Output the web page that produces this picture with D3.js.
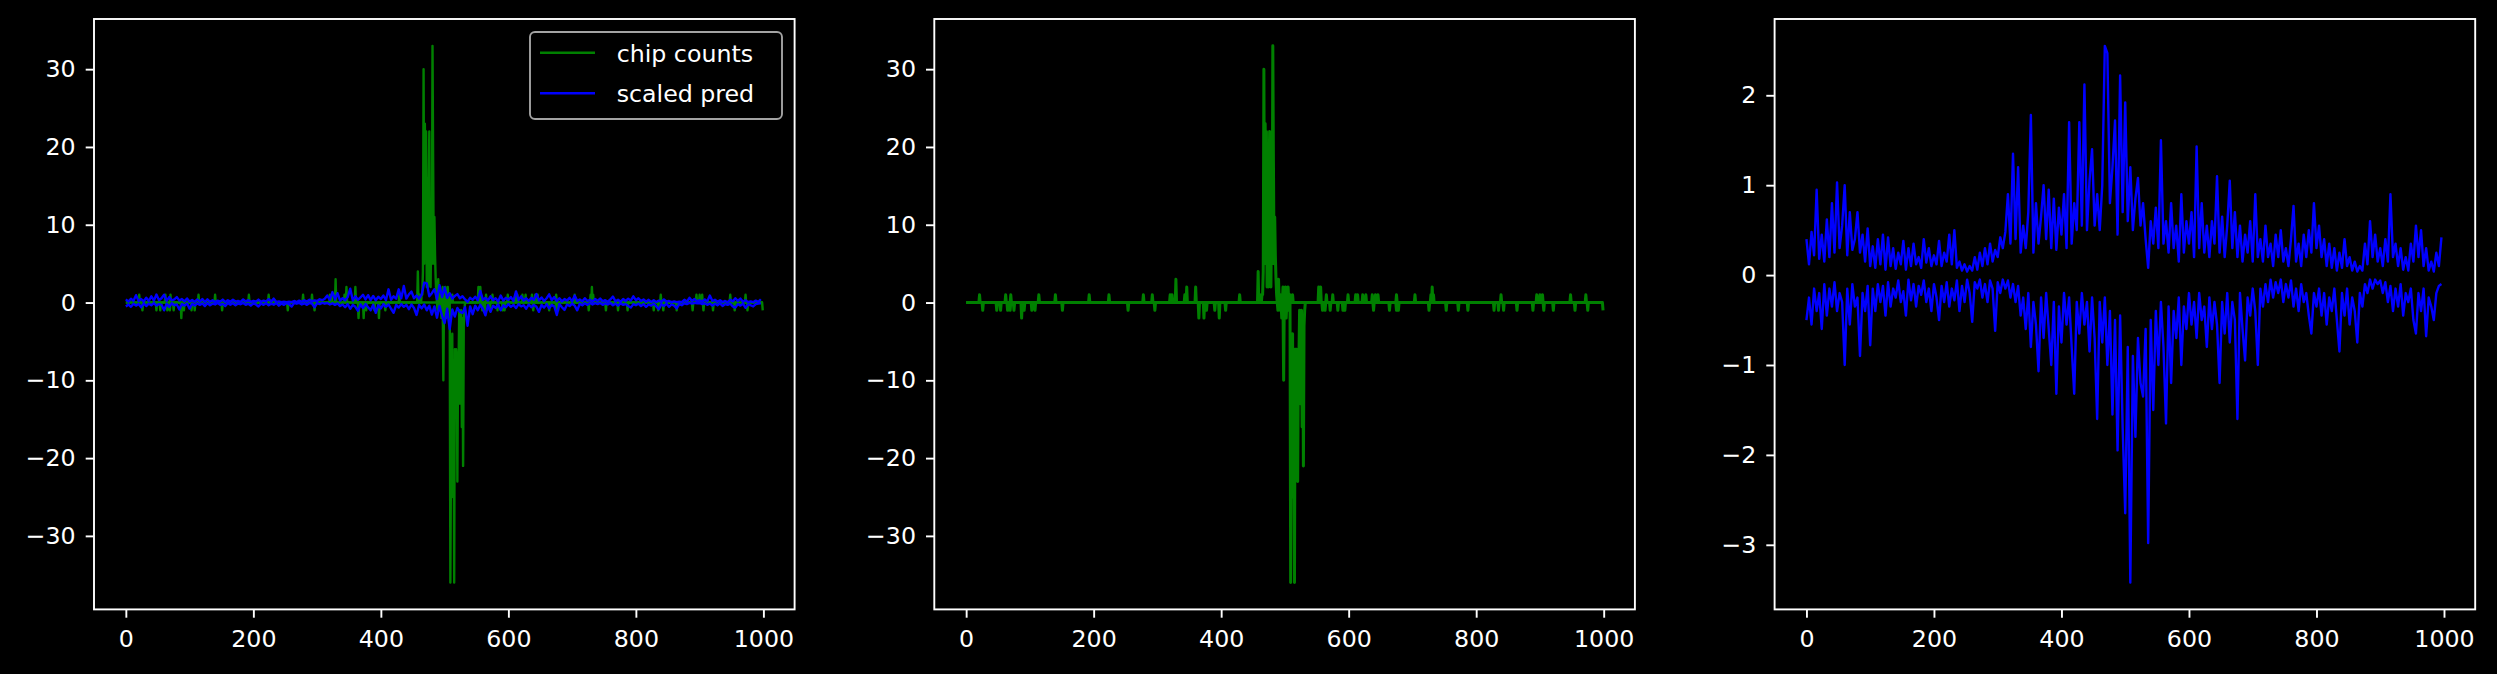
<!DOCTYPE html>
<html><head><meta charset="utf-8">
<script src="https://cdn.jsdelivr.net/npm/d3@7"></script>
<style>
html,body{margin:0;padding:0;background:#000;}
svg{display:block;}
</style>
</head><body>
<svg id="chart" width="2497" height="674"></svg>
<script>
// ---------------- data ----------------
const binCount = 1000;
// chip counts, plus strand: [bin, count] (all other bins are 0)
const countsPlusSparse = [[21,1],[62,1],[70,1],[114,1],[140,1],[193,1],[224,1],[278,1],[292,1],[320,1],[323,1],[329,3],[343,1],[346,2],[360,2],[429,1],[458,4],[461,1],
  [464,1],[465,1],[466,4],[467,30],[468,5],[469,23],[470,12],[471,22],[472,2],[473,16],[474,2],[475,15],[476,22],[477,5],[478,2],[479,10],[480,5],[481,33],[482,18],[483,5],[484,11],[485,6],[486,3],[487,1],[489,1],[490,3],
  [493,1],[497,2],[499,1],[501,2],[505,2],[508,1],[512,1],[553,2],[556,2],[565,1],[575,1],[599,1],[611,1],[614,1],[622,1],[627,1],[637,1],[642,1],[646,1],[675,1],[704,1],[729,1],[731,2],[733,1],[839,1],[895,1],[900,1],[904,1],[948,1],[972,1]];
// chip counts, minus strand (drawn negative): [bin, value]
const countsMinusSparse = [[26,-1],[48,-1],[54,-1],[65,-1],[69,-1],[75,-1],[87,-2],[91,-1],[103,-1],[108,-1],[151,-1],[254,-1],[296,-1],[365,-2],[373,-2],[377,-1],[390,-1],[397,-2],[407,-1],
  [489,-1],[493,-1],[495,-2],[498,-10],[502,-2],[504,-1],[509,-36],[510,-20],[511,-8],[512,-4],[513,-25],[514,-10],[515,-36],[516,-6],[517,-12],[518,-6],[519,-7],[520,-23],[521,-9],[522,-7],[523,-1],[524,-13],[525,-5],[526,-1],[527,-16],[528,-2],[529,-21],[530,-3],[531,-1],
  [559,-1],[563,-1],[571,-1],[583,-1],[591,-1],[594,-1],[639,-1],[664,-1],[675,-1],[678,-1],[726,-1],[753,-1],[772,-1],[787,-1],[828,-1],[835,-1],[843,-1],[864,-1],[889,-1],[906,-1],[921,-1],[955,-1],[975,-1],[999,-1]];
// scaled prediction sampled every 4 bins (bins 0,4,...,996)
const predStep = 4;
const predPlus = [
  0.40,0.12,0.48,0.22,0.95,0.18,0.45,0.15,0.62,0.20,0.80,0.25,1.03,0.30,0.55,1.00,0.22,0.70,0.28,0.40,0.70,0.25,0.45,0.15,0.52,
  0.10,0.32,0.08,0.40,0.12,0.45,0.06,0.42,0.10,0.30,0.07,0.25,0.12,0.38,0.06,0.30,0.10,0.35,0.12,0.20,0.08,0.40,0.14,0.30,0.10,
  0.22,0.12,0.38,0.10,0.25,0.15,0.45,0.12,0.50,0.08,0.15,0.05,0.12,0.04,0.10,0.05,0.20,0.06,0.25,0.10,0.30,0.12,0.35,0.15,0.28,
  0.20,0.42,0.30,0.48,0.90,0.35,1.35,0.40,1.20,0.25,0.55,0.30,0.70,1.78,0.25,0.80,0.35,0.65,1.00,0.40,0.95,0.30,0.85,0.28,0.75,
  0.45,0.90,0.30,1.70,0.35,0.80,0.50,1.70,0.55,2.12,0.50,1.05,1.40,0.55,0.90,0.50,1.00,2.55,2.47,0.80,1.20,1.72,0.45,2.22,0.70,
  1.92,0.60,1.20,0.50,0.85,1.08,0.55,0.80,0.40,0.08,0.60,0.35,0.75,0.30,1.50,0.35,0.60,0.25,0.80,0.30,0.55,0.15,0.90,0.25,0.60,
  0.35,0.70,0.20,1.43,0.30,0.80,0.25,0.55,0.20,0.60,0.35,1.10,0.25,0.65,0.20,0.55,1.05,0.30,0.70,0.20,0.55,0.15,0.45,0.25,0.60,
  0.15,0.90,0.20,0.40,0.15,0.55,0.20,0.35,0.10,0.45,0.20,0.50,0.15,0.30,0.10,0.40,0.77,0.15,0.35,0.10,0.45,0.20,0.50,0.25,0.80,
  0.30,0.55,0.20,0.40,0.10,0.35,0.08,0.30,0.05,0.25,0.08,0.40,0.10,0.20,0.05,0.15,0.04,0.10,0.05,0.35,0.12,0.60,0.20,0.45,0.15,
  0.30,0.10,0.40,0.15,0.90,0.20,0.35,0.10,0.30,0.06,0.20,0.05,0.35,0.15,0.55,0.20,0.50,0.10,0.30,0.05,0.15,0.04,0.25,0.10,0.42];
const predMinus = [
  -0.50,-0.25,-0.55,-0.15,-0.40,-0.20,-0.60,-0.10,-0.45,-0.15,-0.35,-0.08,-0.40,-0.20,-0.30,-1.00,-0.15,-0.55,-0.10,-0.35,-0.25,-0.90,-0.20,-0.40,-0.12,
  -0.78,-0.15,-0.40,-0.10,-0.30,-0.12,-0.45,-0.08,-0.35,-0.15,-0.25,-0.06,-0.30,-0.18,-0.45,-0.05,-0.28,-0.10,-0.35,-0.12,-0.22,-0.06,-0.30,-0.15,-0.40,
  -0.10,-0.25,-0.50,-0.12,-0.30,-0.08,-0.35,-0.15,-0.28,-0.06,-0.40,-0.12,-0.30,-0.05,-0.20,-0.52,-0.08,-0.15,-0.05,-0.25,-0.10,-0.30,-0.06,-0.15,-0.62,
  -0.08,-0.20,-0.05,-0.15,-0.06,-0.25,-0.10,-0.30,-0.12,-0.45,-0.25,-0.60,-0.20,-0.80,-0.30,-0.55,-1.07,-0.25,-0.70,-0.20,-0.60,-1.00,-0.30,-1.32,-0.35,
  -0.75,-0.20,-0.55,-0.25,-0.80,-1.32,-0.30,-0.65,-0.20,-0.55,-0.30,-0.85,-0.25,-0.70,-1.60,-0.30,-0.75,-0.25,-1.00,-0.40,-1.55,-0.50,-1.95,-0.45,-1.70,
  -2.65,-0.80,-3.42,-0.90,-1.80,-0.70,-1.20,-1.35,-0.60,-2.98,-0.50,-1.50,-0.40,-1.00,-0.30,-0.80,-1.65,-0.35,-1.20,-0.40,-0.70,-0.25,-1.00,-0.35,-0.60,
  -0.20,-0.55,-0.30,-0.70,-0.20,-0.50,-0.35,-0.80,-0.25,-0.60,-0.30,-0.55,-1.20,-0.30,-0.65,-0.20,-0.75,-0.30,-0.50,-1.60,-0.20,-0.60,-0.95,-0.25,-0.45,
  -0.15,-0.40,-1.00,-0.15,-0.35,-0.10,-0.30,-0.05,-0.25,-0.08,-0.20,-0.05,-0.30,-0.10,-0.25,-0.06,-0.35,-0.15,-0.40,-0.10,-0.30,-0.20,-0.45,-0.65,-0.20,
  -0.35,-0.15,-0.45,-0.20,-0.55,-0.25,-0.40,-0.15,-0.50,-0.85,-0.20,-0.45,-0.15,-0.55,-0.25,-0.40,-0.75,-0.20,-0.35,-0.10,-0.20,-0.05,-0.15,-0.05,-0.10,
  -0.06,-0.20,-0.08,-0.30,-0.12,-0.40,-0.15,-0.35,-0.10,-0.45,-0.20,-0.30,-0.15,-0.50,-0.65,-0.20,-0.40,-0.15,-0.68,-0.25,-0.35,-0.50,-0.20,-0.12,-0.10];
const xTicks = [0, 200, 400, 600, 800, 1000];
const countTicks = [-30, -20, -10, 0, 10, 20, 30];
const predTicks = [-3, -2, -1, 0, 1, 2];
const legendLabels = ["chip counts", "scaled pred"];
const COLORS = {counts: "#008000", pred: "#0000ff"};

// ---------------- build series ----------------
const bins = d3.range(binCount);
const plusMap = new Map(countsPlusSparse), minusMap = new Map(countsMinusSparse);
const countsPlus = bins.map(b => [b, plusMap.get(b) || 0]);
const countsMinus = bins.map(b => [b, minusMap.get(b) || 0]);
const predPlusS = predPlus.map((v, i) => [i * predStep, v]);
const predMinusS = predMinus.map((v, i) => [i * predStep, v]);

function padded(lo, hi) { const m = (hi - lo) * 0.05; return [lo - m, hi + m]; }
const xDom = padded(0, binCount - 1);
const countExt = d3.extent(countsPlus.concat(countsMinus), d => d[1]);
const predExt = d3.extent(predPlusS.concat(predMinusS), d => d[1]);

// ---------------- layout ----------------
const svg = d3.select("#chart");
svg.append("rect").attr("width", 2497).attr("height", 674).attr("fill", "#000");
const TOP = 19, BOTTOM = 609.4, W = 700.6;
const lefts = [94, 934.3, 1774.6];
const FS = 23.7, TICK = 8.3, LW = 1.9;

function panel(idx, yDomain, yTicks, series, lw) {
  const left = lefts[idx];
  const x = d3.scaleLinear().domain(xDom).range([left, left + W]);
  const y = d3.scaleLinear().domain(yDomain).range([BOTTOM, TOP]);
  const g = svg.append("g");
  const clipId = "clip" + idx;
  g.append("clipPath").attr("id", clipId).append("rect")
    .attr("x", left).attr("y", TOP).attr("width", W).attr("height", BOTTOM - TOP);
  const line = d3.line().x(d => x(d[0])).y(d => y(d[1]));
  const lg = g.append("g").attr("clip-path", `url(#${clipId})`);
  series.forEach(s => {
    lg.append("path").datum(s.data).attr("d", line).attr("fill", "none")
      .attr("stroke", s.color).attr("stroke-width", lw).attr("stroke-linejoin", "round");
  });
  // axes
  const xa = g.append("g").attr("transform", `translate(0,${BOTTOM})`)
    .call(d3.axisBottom(x).tickValues(xTicks).tickSize(TICK).tickPadding(12.7).tickFormat(d3.format("d")));
  const ya = g.append("g").attr("transform", `translate(${left},0)`)
    .call(d3.axisLeft(y).tickValues(yTicks).tickSize(TICK).tickPadding(10).tickFormat(d3.format("d")));
  [xa, ya].forEach(a => {
    a.select(".domain").remove();
    a.attr("font-family", "'DejaVu Sans', sans-serif").attr("font-size", FS).attr("color", "#fff");
    a.selectAll(".tick line").attr("stroke", "#fff").attr("stroke-width", LW);
    a.selectAll(".tick text").attr("fill", "#fff");
  });
  g.append("rect").attr("x", left).attr("y", TOP).attr("width", W).attr("height", BOTTOM - TOP)
    .attr("fill", "none").attr("stroke", "#fff").attr("stroke-width", LW);
  return {x, y, g, left};
}

const p1 = panel(0, padded(countExt[0], countExt[1]), countTicks, [
  {data: countsPlus, color: COLORS.counts},
  {data: countsMinus, color: COLORS.counts},
  {data: predPlusS, color: COLORS.pred},
  {data: predMinusS, color: COLORS.pred}
], 2.4);
panel(1, padded(countExt[0], countExt[1]), countTicks, [
  {data: countsPlus, color: COLORS.counts},
  {data: countsMinus, color: COLORS.counts}
], 3.0);
panel(2, padded(predExt[0], predExt[1]), predTicks, [
  {data: predPlusS, color: COLORS.pred},
  {data: predMinusS, color: COLORS.pred}
], 2.4);

// legend (panel 1, upper right)
const lgd = p1.g.append("g");
lgd.append("rect").attr("x", 530).attr("y", 32).attr("width", 252).attr("height", 87).attr("rx", 5)
  .attr("fill", "#000").attr("fill-opacity", 0.8).attr("stroke", "#a3a3a3").attr("stroke-width", 1.9);
const legendColors = [COLORS.counts, COLORS.pred];
legendLabels.forEach((lab, i) => {
  const cy = 52.7 + i * 40.6;
  lgd.append("line").attr("x1", 540).attr("x2", 595).attr("y1", cy).attr("y2", cy)
    .attr("stroke", legendColors[i]).attr("stroke-width", 2.4);
  lgd.append("text").attr("x", 616.7).attr("y", cy + 9).text(lab)
    .attr("fill", "#fff").attr("font-family", "'DejaVu Sans', sans-serif").attr("font-size", FS);
});
</script>
</body></html>
